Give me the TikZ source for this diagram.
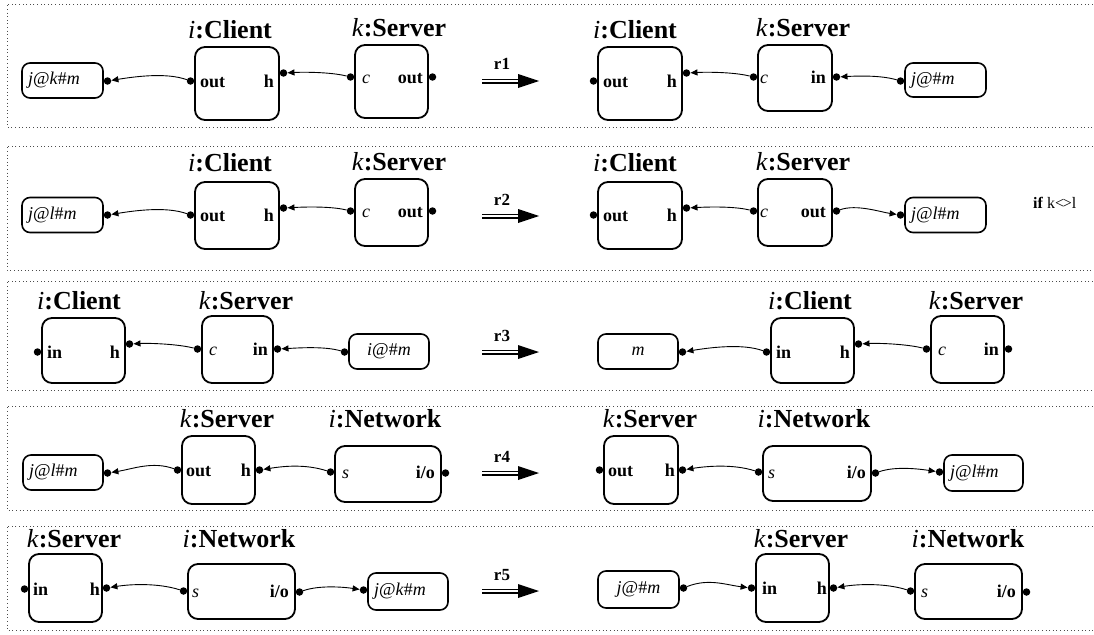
\documentclass[tikz,border=0pt]{standalone}
\usepackage{fontspec}
\setmainfont{Liberation Serif}
\usetikzlibrary{arrows.meta}

\begin{document}
\begin{tikzpicture}[x=1pt,y=-1pt,
  comp/.style={draw, line width=1.8pt, rounded corners=10pt, inner sep=0pt},
  msg/.style={draw, line width=1.6pt, rounded corners=8pt, inner xsep=6pt, inner ysep=0pt, font=\fontsize{18}{20}\selectfont},
  port/.style={circle, fill, inner sep=0pt, minimum size=7.5pt},
  pname/.style={font=\fontsize{18}{20}\selectfont\bfseries, inner sep=0pt},
  pvar/.style={font=\fontsize{18}{20}\selectfont\itshape, inner sep=0pt},
  title/.style={font=\fontsize{26}{30}\selectfont\bfseries, anchor=base, inner sep=0pt},
  conn/.style={line width=0.9pt, -{Triangle[length=7pt,width=6pt]}},
  frame/.style={line width=0.7pt, black!70, dash pattern=on 1pt off 2.6pt},
  rewrite/.style={line width=1.3pt, double distance=2.4pt, shorten >=19pt},
  rname/.style={font=\fontsize{17}{20}\selectfont\bfseries, anchor=base, inner sep=0pt},
  cond/.style={font=\fontsize{16}{18}\selectfont, inner sep=0pt}]
\useasboundingbox (0,0) rectangle (1094,634);
\clip (0,0) rectangle (1094,634);

% frames of the five rules
\foreach \ft/\fb in {4/127,146/270,281/390,406/510,526/630}
  \draw[frame] (1100,\ft) -- (7,\ft) -- (7,\fb) -- (1100,\fb);

% rewrite arrows
\foreach \ry/\rn in {81/r1,216/r2,352/r3,473/r4,591/r5}{
  \coordinate (\rn s) at (482,\ry);
  \coordinate (\rn e) at (539,\ry);
  \draw[rewrite] (\rn s) -- (\rn e);
  \fill (\rn e) -- +(-21,-7) -- +(-21,7) -- cycle;
  \node[rname] (\rn l) at (502,\ry-11) {\rn};
}

% ---- r1 left
\node[msg, text width=69pt, align=left, minimum height=35pt] (m1) at (62.5,80.5) {\textit{j}@\textit{k}\#\textit{m}};
\node[comp, minimum width=84pt, minimum height=73pt] (c1) at (237,83.5) {};
\node[comp, minimum width=73pt, minimum height=73pt] (s1) at (391.5,81.5) {};
\node[port] (m1p) at (107.5,81) {};
\node[port] (c1o) at (190.5,81) {};
\node[port] (c1h) at (283.5,73) {};
\node[port] (s1c) at (350.5,77) {};
\node[port] (s1o) at (432.5,77) {};
\node[pname, anchor=base west] (c1ol) at (200,87) {out};
\node[pname, anchor=base east] (c1hl) at (274,87) {h};
\node[pvar, anchor=base west] (s1cl) at (362,83) {c};
\node[pname, anchor=base east] (s1ol) at (423,83) {out};
\node[title] (c1t) at (230,38) {\textit{\mdseries i}:Client};
\node[title] (s1t) at (399,37) {\textit{\mdseries k}:Server};
\draw[conn] (c1o) .. controls +(-25,-9) and +(25,-4) .. (m1p);
\draw[conn] (s1c) .. controls +(-20,-5) and +(20,-1) .. (c1h);
% ---- r1 right
\node[comp, minimum width=84pt, minimum height=73pt] (c1r) at (640,83.5) {};
\node[comp, minimum width=74pt, minimum height=66pt] (s1r) at (795,78) {};
\node[msg, text width=69pt, align=left, minimum height=34pt] (m1r) at (945.5,80) {\textit{j}@\#\textit{m}};
\node[port] (c1ro) at (593.5,81) {};
\node[port] (c1rh) at (686.5,73) {};
\node[port] (s1rc) at (753.5,77) {};
\node[port] (s1ri) at (836.5,77) {};
\node[port] (m1rp) at (900.5,81) {};
\node[pname, anchor=base west] (c1rol) at (603,87) {out};
\node[pname, anchor=base east] (c1rhl) at (677,87) {h};
\node[pvar, anchor=base west] (s1rcl) at (760,83) {c};
\node[pname, anchor=base east] (s1ril) at (826,83) {in};
\node[title] (c1rt) at (635,38) {\textit{\mdseries i}:Client};
\node[title] (s1rt) at (803,37) {\textit{\mdseries k}:Server};
\draw[conn] (m1rp) .. controls +(-20,-6) and +(20,-1) .. (s1ri);
\draw[conn] (s1rc) .. controls +(-20,-5) and +(20,-1) .. (c1rh);

% ---- r2 left
\node[msg, text width=69pt, align=left, minimum height=35pt] (m2) at (62.5,215) {\textit{j}@\textit{l}\#\textit{m}};
\node[comp, minimum width=84pt, minimum height=67pt] (c2) at (237,215.5) {};
\node[comp, minimum width=73pt, minimum height=67pt] (s2) at (391.5,212.5) {};
\node[port] (m2p) at (107.5,215) {};
\node[port] (c2o) at (190.5,215) {};
\node[port] (c2h) at (283.5,208) {};
\node[port] (s2c) at (350.5,211) {};
\node[port] (s2o) at (432.5,211) {};
\node[pname, anchor=base west] (c2ol) at (200,221) {out};
\node[pname, anchor=base east] (c2hl) at (274,221) {h};
\node[pvar, anchor=base west] (s2cl) at (362,217) {c};
\node[pname, anchor=base east] (s2ol) at (423,217) {out};
\node[title] (c2t) at (230,171) {\textit{\mdseries i}:Client};
\node[title] (s2t) at (399,170) {\textit{\mdseries k}:Server};
\draw[conn] (c2o) .. controls +(-25,-9) and +(25,-4) .. (m2p);
\draw[conn] (s2c) .. controls +(-20,-5) and +(20,-1) .. (c2h);
% ---- r2 right
\node[comp, minimum width=84pt, minimum height=67pt] (c2r) at (640,215.5) {};
\node[comp, minimum width=74pt, minimum height=67pt] (s2r) at (795,212.5) {};
\node[msg, text width=69pt, align=left, minimum height=35pt] (m2r) at (945.5,215) {\textit{j}@\textit{l}\#\textit{m}};
\node[port] (c2ro) at (593.5,215) {};
\node[port] (c2rh) at (686.5,208) {};
\node[port] (s2rc) at (753.5,211) {};
\node[port] (s2ro) at (836.5,211) {};
\node[port] (m2rp) at (900.5,215) {};
\node[pname, anchor=base west] (c2rol) at (603,221) {out};
\node[pname, anchor=base east] (c2rhl) at (677,221) {h};
\node[pvar, anchor=base west] (s2rcl) at (760,217) {c};
\node[pname, anchor=base east] (s2rol) at (826,217) {out};
\node[title] (c2rt) at (635,171) {\textit{\mdseries i}:Client};
\node[title] (s2rt) at (803,170) {\textit{\mdseries k}:Server};
\draw[conn] (s2rc) .. controls +(-20,-5) and +(20,-1) .. (c2rh);
\draw[conn] (s2ro) .. controls +(20,-7) and +(-20,-3) .. (m2rp);
\node[cond, anchor=base west] (if2) at (1033,208) {\textbf{if} k<\kern-1.2pt>l};

% ---- r3 left
\node[comp, minimum width=83pt, minimum height=65pt] (c3) at (83.5,350.5) {};
\node[comp, minimum width=71pt, minimum height=67pt] (s3) at (237.5,349.5) {};
\node[msg, text width=68pt, align=center, minimum height=35pt] (m3) at (389,351.5) {\textit{i}@\#\textit{m}};
\node[port] (c3i) at (37.5,352) {};
\node[port] (c3h) at (129.5,344) {};
\node[port] (s3c) at (197.5,349) {};
\node[port] (s3i) at (277.5,349) {};
\node[port] (m3p) at (344.5,352) {};
\node[pname, anchor=base west] (c3il) at (47,358) {in};
\node[pname, anchor=base east] (c3hl) at (120,358) {h};
\node[pvar, anchor=base west] (s3cl) at (209,355) {c};
\node[pname, anchor=base east] (s3il) at (268,355) {in};
\node[title] (c3t) at (79,309) {\textit{\mdseries i}:Client};
\node[title] (s3t) at (246,309) {\textit{\mdseries k}:Server};
\draw[conn] (s3c) .. controls +(-20,-5) and +(20,-1) .. (c3h);
\draw[conn] (m3p) .. controls +(-20,-6) and +(20,-1) .. (s3i);
% ---- r3 right
\node[msg, text width=68pt, align=center, minimum height=35pt] (m3r) at (638,351.5) {\textit{m}};
\node[comp, minimum width=83pt, minimum height=65pt] (c3r) at (812.5,350.5) {};
\node[comp, minimum width=73pt, minimum height=67pt] (s3r) at (967.5,349.5) {};
\node[port] (m3rp) at (682.5,352) {};
\node[port] (c3ri) at (766.5,352) {};
\node[port] (c3rh) at (858.5,344) {};
\node[port] (s3rc) at (926.5,349) {};
\node[port] (s3ri) at (1008.5,349) {};
\node[pname, anchor=base west] (c3ril) at (776,358) {in};
\node[pname, anchor=base east] (c3rhl) at (850,358) {h};
\node[pvar, anchor=base west] (s3rcl) at (938,355) {c};
\node[pname, anchor=base east] (s3ril) at (999,355) {in};
\node[title] (c3rt) at (810,309) {\textit{\mdseries i}:Client};
\node[title] (s3rt) at (976,309) {\textit{\mdseries k}:Server};
\draw[conn] (c3ri) .. controls +(-25,-9) and +(25,-4) .. (m3rp);
\draw[conn] (s3rc) .. controls +(-20,-5) and +(20,-1) .. (c3rh);

% ---- r4 left
\node[msg, text width=68pt, align=left, minimum height=35pt] (m4) at (63,472.5) {\textit{j}@\textit{l}\#\textit{m}};
\node[comp, minimum width=73pt, minimum height=68pt] (s4) at (218.5,470) {};
\node[comp, minimum width=106pt, minimum height=56pt] (n4) at (388,474) {};
\node[port] (m4p) at (107.5,473) {};
\node[port] (s4o) at (177.5,470) {};
\node[port] (s4h) at (259.5,470) {};
\node[port] (n4s) at (330.5,472) {};
\node[port] (n4i) at (445.5,473) {};
\node[pname, anchor=base west] (s4ol) at (186,476) {out};
\node[pname, anchor=base east] (s4hl) at (251,476) {h};
\node[pvar, anchor=base west] (n4sl) at (342,478) {s};
\node[pname, anchor=base east] (n4il) at (435,478) {i/o};
\node[title] (s4t) at (227,427) {\textit{\mdseries k}:Server};
\node[title] (n4t) at (385,427) {\textit{\mdseries i}:Network};
\draw[conn] (s4o) .. controls +(-25,-9) and +(25,-4) .. (m4p);
\draw[conn] (n4s) .. controls +(-25,-8) and +(25,-4) .. (s4h);
% ---- r4 right
\node[comp, minimum width=74pt, minimum height=68pt] (s4r) at (641,470) {};
\node[comp, minimum width=108pt, minimum height=55pt] (n4r) at (817,473.5) {};
\node[msg, text width=67pt, align=left, minimum height=36pt] (m4r) at (983.5,473) {\textit{j}@\textit{l}\#\textit{m}};
\node[port] (s4ro) at (599.5,470) {};
\node[port] (s4rh) at (682.5,470) {};
\node[port] (n4rs) at (758.5,472) {};
\node[port] (n4ri) at (875.5,473) {};
\node[port] (m4rp) at (939.5,472) {};
\node[pname, anchor=base west] (s4rol) at (608,476) {out};
\node[pname, anchor=base east] (s4rhl) at (675,476) {h};
\node[pvar, anchor=base west] (n4rsl) at (768,478) {s};
\node[pname, anchor=base east] (n4ril) at (866,478) {i/o};
\node[title] (s4rt) at (650,427) {\textit{\mdseries k}:Server};
\node[title] (n4rt) at (814,427) {\textit{\mdseries i}:Network};
\draw[conn] (n4rs) .. controls +(-25,-8) and +(25,-4) .. (s4rh);
\draw[conn] (n4ri) .. controls +(20,-7) and +(-20,-3) .. (m4rp);

% ---- r5 left
\node[comp, minimum width=73pt, minimum height=68pt] (s5) at (65.5,588) {};
\node[comp, minimum width=107pt, minimum height=55pt] (n5) at (241.5,591.5) {};
\node[msg, text width=68pt, align=left, minimum height=37pt] (m5) at (408,591.5) {\textit{j}@\textit{k}\#\textit{m}};
\node[port] (s5i) at (24.5,589) {};
\node[port] (s5h) at (106.5,588) {};
\node[port] (n5s) at (183.5,591) {};
\node[port] (n5i) at (299.5,592) {};
\node[port] (m5p) at (363.5,590) {};
\node[pname, anchor=base west] (s5il) at (33,595) {in};
\node[pname, anchor=base east] (s5hl) at (100,595) {h};
\node[pvar, anchor=base west] (n5sl) at (192,597) {s};
\node[pname, anchor=base east] (n5il) at (289,597) {i/o};
\node[title] (s5t) at (74,547) {\textit{\mdseries k}:Server};
\node[title] (n5t) at (239,547) {\textit{\mdseries i}:Network};
\draw[conn] (n5s) .. controls +(-25,-8) and +(25,-4) .. (s5h);
\draw[conn] (n5i) .. controls +(20,-7) and +(-20,-3) .. (m5p);
% ---- r5 right
\node[msg, text width=69pt, align=center, minimum height=37pt] (m5r) at (638.5,589.5) {\textit{j}@\#\textit{m}};
\node[comp, minimum width=73pt, minimum height=68pt] (s5r) at (792.5,588) {};
\node[comp, minimum width=107pt, minimum height=55pt] (n5r) at (968.5,591.5) {};
\node[port] (m5rp) at (683.5,588) {};
\node[port] (s5ri) at (751.5,588) {};
\node[port] (s5rh) at (833.5,588) {};
\node[port] (n5rs) at (910.5,591) {};
\node[port] (n5ri) at (1026.5,592) {};
\node[pname, anchor=base west] (s5ril) at (762,594) {in};
\node[pname, anchor=base east] (s5rhl) at (827,594) {h};
\node[pvar, anchor=base west] (n5rsl) at (921,597) {s};
\node[pname, anchor=base east] (n5ril) at (1016,597) {i/o};
\node[title] (s5rt) at (801,547) {\textit{\mdseries k}:Server};
\node[title] (n5rt) at (968,547) {\textit{\mdseries i}:Network};
\draw[conn] (m5rp) .. controls +(25,-10) and +(-25,-3) .. (s5ri);
\draw[conn] (n5rs) .. controls +(-25,-8) and +(25,-4) .. (s5rh);
\end{tikzpicture}
\end{document}
